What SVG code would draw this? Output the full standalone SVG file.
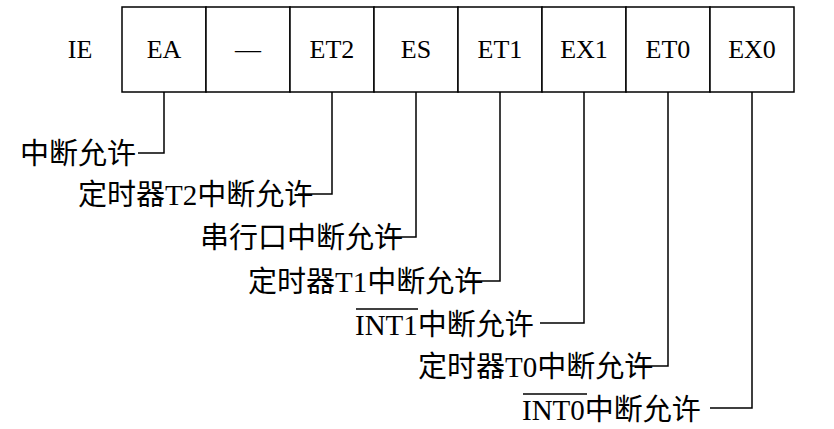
<svg xmlns="http://www.w3.org/2000/svg" width="834" height="429" viewBox="0 0 834 429">
<style>
.c{fill:#fff;stroke:#000;stroke-width:1.5}
.t{font-family:"Liberation Serif","Noto Sans CJK SC",serif;font-size:29px;fill:#000}
.r{font-family:"Liberation Serif","Noto Sans CJK SC",serif;font-size:26px;fill:#000;text-anchor:middle}
.l{fill:none;stroke:#000;stroke-width:1.5}
</style>
<rect width="834" height="429" fill="#fff"/>
<g id="register">
<text class="r" x="80" y="58">IE</text>
<rect class="c" x="122" y="7" width="84" height="85"/><text class="r" x="164" y="58">EA</text>
<rect class="c" x="206" y="7" width="84" height="85"/><text class="r" x="248" y="58">—</text>
<rect class="c" x="290" y="7" width="84" height="85"/><text class="r" x="332" y="58">ET2</text>
<rect class="c" x="374" y="7" width="84" height="85"/><text class="r" x="416" y="58">ES</text>
<rect class="c" x="458" y="7" width="84" height="85"/><text class="r" x="500" y="58">ET1</text>
<rect class="c" x="542" y="7" width="84" height="85"/><text class="r" x="584" y="58">EX1</text>
<rect class="c" x="626" y="7" width="84" height="85"/><text class="r" x="668" y="58">ET0</text>
<rect class="c" x="710" y="7" width="84" height="85"/><text class="r" x="752" y="58">EX0</text>
</g>
<g id="connectors">
<polyline class="l" points="164,92 164,153 138,153"/>
<polyline class="l" points="332,92 332,194 298,194"/>
<polyline class="l" points="416,92 416,237 380,237"/>
<polyline class="l" points="500,92 500,281 462,281"/>
<polyline class="l" points="584,92 584,323 540,323"/>
<polyline class="l" points="668,92 668,366 630,366"/>
<polyline class="l" points="752,92 752,408 710,408"/>
</g>
<g id="labels">
<text class="t" x="20" y="164">中断允许</text>
<text class="t" x="78" y="205">定时器T2中断允许</text>
<text class="t" x="200" y="248">串行口中断允许</text>
<text class="t" x="248" y="292">定时器T1中断允许</text>
<text class="t" x="355" y="335">INT1中断允许</text>
<line class="l" x1="356" y1="309" x2="418" y2="309"/>
<text class="t" x="418" y="377">定时器T0中断允许</text>
<text class="t" x="522" y="420">INT0中断允许</text>
<line class="l" x1="523" y1="394" x2="587" y2="394"/>
</g>
</svg>
